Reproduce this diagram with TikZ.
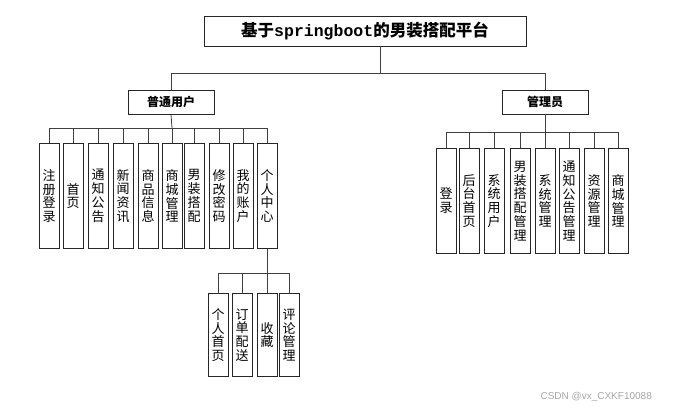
\documentclass[tikz,border=0pt]{standalone}
\usepackage{fontspec}
\newfontfamily\cjk{Noto Sans CJK SC}
\newfontfamily\monof{Liberation Mono}
\usetikzlibrary{shadows}
\tikzset{
  box/.style={draw=black!85, line width=0.9pt, fill=white, inner sep=0pt,
    drop shadow={shadow xshift=1pt, shadow yshift=-1pt, fill=black!45, opacity=1}},
  leaf/.style={box, minimum width=20pt, minimum height=105pt, anchor=north, align=center,
    font=\cjk\fontsize{13}{13.75}\selectfont},
  subleaf/.style={leaf, minimum height=83pt},
  midbox/.style={box, minimum width=86pt, minimum height=24pt, font=\cjk\bfseries\fontsize{12}{12}\selectfont},
  conn/.style={draw=black!75, line width=0.8pt}
}
\begin{document}
\begin{tikzpicture}[x=1pt,y=-1pt]
\useasboundingbox (0,0) rectangle (678,412);
% root
\node[box, minimum width=322pt, minimum height=30pt] (root) at (365,31)
  {\cjk\bfseries\fontsize{16.5}{16.5}\selectfont 基于{\monof\bfseries springboot}的男装搭配平台};
\node[midbox] (user) at (171,102) {普通用户};
\node[midbox] (admin) at (545,102) {管理员};
% user children
\node[leaf] (u1) at (49,143) {注\\册\\登\\录};
\node[leaf] (u2) at (73,143) {首\\页};
\node[leaf] (u3) at (98,143) {通\\知\\公\\告};
\node[leaf] (u4) at (123,143) {新\\闻\\资\\讯};
\node[leaf] (u5) at (148,143) {商\\品\\信\\息};
\node[leaf] (u6) at (172,143) {商\\城\\管\\理};
\node[leaf] (u7) at (194,143) {男\\装\\搭\\配};
\node[leaf] (u8) at (219,143) {修\\改\\密\\码};
\node[leaf] (u9) at (243,143) {我\\的\\账\\户};
\node[leaf] (u10) at (267,143) {个\\人\\中\\心};
% admin children
\node[leaf] (a1) at (446,148) {登\\录};
\node[leaf] (a2) at (469,148) {后\\台\\首\\页};
\node[leaf] (a3) at (494,148) {系\\统\\用\\户};
\node[leaf] (a4) at (520,148) {男\\装\\搭\\配\\管\\理};
\node[leaf] (a5) at (545,148) {系\\统\\管\\理};
\node[leaf] (a6) at (569,148) {通\\知\\公\\告\\管\\理};
\node[leaf] (a7) at (594,148) {资\\源\\管\\理};
\node[leaf] (a8) at (618,148) {商\\城\\管\\理};
% personal center children
\node[subleaf] (p1) at (218,293) {个\\人\\首\\页};
\node[subleaf] (p2) at (242,293) {订\\单\\配\\送};
\node[subleaf] (p3) at (267,293) {收\\藏};
\node[subleaf] (p4) at (289,293) {评\\论\\管\\理};
% bus coordinates
\coordinate (rb) at (380,73);
\coordinate (ub) at (172,128);
\coordinate (ab) at (545,132);
\coordinate (pb) at (267,273);
% connectors
\draw[conn] (root.south -| rb) -- (rb);
\draw[conn] (rb) -| (user.north);
\draw[conn] (rb) -| (admin.north);
\draw[conn] (user.south) -- (ub);
\foreach \n in {u1,u2,u3,u4,u5,u6,u7,u8,u9,u10} \draw[conn] (ub) -| (\n.north);
\draw[conn] (admin.south) -- (ab);
\foreach \n in {a1,a2,a3,a4,a5,a6,a7,a8} \draw[conn] (ab) -| (\n.north);
\draw[conn] (u10.south) -- (pb);
\foreach \n in {p1,p2,p3,p4} \draw[conn] (pb) -| (\n.north);
% watermark
\node[text=black!35, font=\fontspec{Liberation Sans}\fontsize{10}{10}\selectfont, anchor=west] (wm) at (537,397) {CSDN @vx\_CXKF10088};
\end{tikzpicture}
\end{document}
